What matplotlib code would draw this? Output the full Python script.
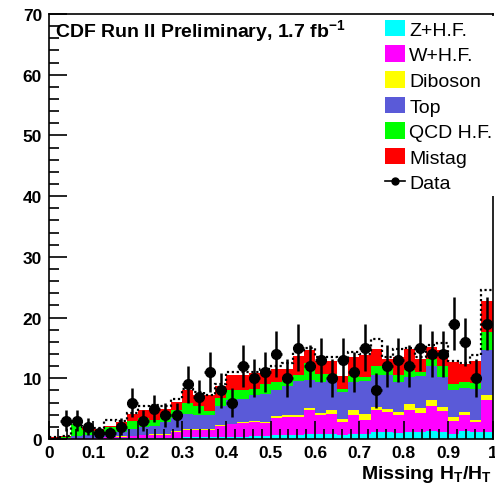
import numpy as np
import matplotlib
matplotlib.use("Agg")
import matplotlib.pyplot as plt
from matplotlib.patches import Patch
from matplotlib.lines import Line2D

plt.rcParams['font.family'] = ['Liberation Sans', 'DejaVu Sans']
plt.rcParams['mathtext.fontset'] = 'custom'
plt.rcParams['mathtext.rm'] = 'Liberation Sans'
plt.rcParams['mathtext.bf'] = 'Liberation Sans:bold'

# 40 bins of missing HT / HT
edges = np.linspace(0, 1, 41)

# cumulative stack tops per bin (Z+HF, +W+HF, +Diboson, +Top, +QCD HF, +Mistag)
z_top = [0.0, 0.0, 0.05, 0.05, 0.05, 0.05, 0.1, 0.1, 0.15, 0.15,
         0.2, 0.2, 0.25, 0.25, 0.3, 0.3, 0.35, 0.4, 0.45, 0.5,
         0.6, 0.6, 0.6, 0.9, 0.8, 0.9, 0.7, 0.8, 0.8, 1.1,
         1.1, 1.0, 1.1, 1.1, 1.4, 1.1, 0.8, 1.4, 1.1, 1.1]
w_top = [0.05, 0.1, 0.1, 0.15, 0.15, 0.25, 0.4, 0.5, 0.6, 0.65,
         0.7, 1.1, 1.5, 1.45, 1.5, 2.1, 2.4, 2.6, 2.8, 2.6,
         3.5, 3.6, 3.7, 4.7, 4.0, 4.2, 2.75, 4.0, 3.2, 4.8,
         4.4, 4.0, 4.8, 4.3, 5.5, 4.6, 2.9, 3.9, 2.75, 6.4]
db_top = [0.05, 0.1, 0.1, 0.15, 0.15, 0.3, 0.45, 0.55, 0.7, 0.75,
          0.8, 1.25, 1.65, 1.6, 1.6, 2.25, 2.55, 2.8, 3.0, 2.8,
          3.75, 3.9, 4.0, 5.1, 4.3, 4.7, 3.3, 4.8, 4.1, 5.2,
          5.0, 4.4, 5.7, 5.1, 6.4, 5.3, 3.6, 4.4, 3.2, 7.3]
top_top = [0.1, 0.2, 0.5, 0.6, 0.6, 1.0, 1.2, 1.65, 1.9, 2.2,
           2.75, 3.4, 4.2, 4.0, 4.0, 5.4, 6.5, 6.6, 7.2, 7.4,
           8.0, 8.8, 9.6, 9.75, 9.4, 9.9, 7.8, 9.4, 9.5, 10.6,
           10.5, 9.4, 10.2, 10.3, 12.1, 10.2, 8.15, 8.4, 8.3, 14.6]
qcd_top = [0.15, 0.3, 2.4, 1.5, 1.3, 1.9, 2.1, 3.0, 3.4, 3.1,
           3.9, 4.7, 5.9, 5.5, 4.6, 6.8, 8.0, 8.0, 8.3, 9.1,
           9.4, 9.75, 10.6, 12.5, 10.7, 10.7, 8.3, 10.3, 10.2, 12.1,
           12.0, 10.6, 11.4, 11.1, 13.1, 12.1, 9.1, 9.4, 9.3, 17.6]
mistag_top = [0.3, 0.5, 2.5, 1.9, 1.7, 2.2, 2.8, 4.1, 4.8, 5.0,
              4.9, 6.1, 8.1, 7.2, 7.2, 8.65, 10.6, 10.6, 10.9, 11.1,
              11.5, 11.6, 13.7, 14.7, 12.9, 12.9, 10.3, 13.5, 13.8, 14.9,
              13.2, 13.5, 14.9, 13.2, 15.2, 14.7, 12.7, 12.4, 12.8, 22.7]
# dotted total
dotted = [0.3, 0.5, 2.6, 1.9, 1.8, 3.1, 3.0, 4.3, 5.5, 5.6,
          5.5, 6.6, 8.3, 7.7, 7.2, 9.0, 11.0, 11.0, 11.1, 11.5,
          12.0, 12.6, 14.3, 15.0, 13.5, 13.5, 13.2, 14.3, 14.0, 16.5,
          13.5, 14.9, 15.0, 13.5, 15.5, 15.8, 12.9, 12.5, 13.8, 24.5]

data = [0, 3, 3, 2, 1, 1, 2, 6, 3, 5,
        4, 4, 9, 7, 11, 8, 6, 12, 10, 11,
        14, 10, 15, 12, 13, 10, 13, 11, 15, 8,
        12, 13, 12, 15, 14, 14, 19, 16, 10, 19]

labels = ["Z+H.F.", "W+H.F.", "Diboson", "Top", "QCD H.F.", "Mistag"]
colors = ["#00ffff", "#ff00ff", "#ffff00", "#5a5ad8", "#00ff00", "#ff0000"]

fig = plt.figure(figsize=(4.95, 4.85), dpi=100)
ax = fig.add_axes([49 / 495, 45 / 485, 443.5 / 495, 425 / 485])

layers = [z_top, w_top, db_top, top_top, qcd_top, mistag_top]
base = np.zeros(40)
for tops, col in zip(layers, colors):
    tops = np.maximum(np.array(tops), base)
    ax.stairs(tops, edges, baseline=base, fill=True, color=col, lw=0)
    base = tops

ax.stairs(dotted, edges, color="black", lw=1.6, ls=(0, (1, 1.2)), baseline=None)

centers = 0.5 * (edges[:-1] + edges[1:])
d = np.array(data, dtype=float)
m = d > 0
ax.errorbar(centers[m], d[m], xerr=0.0125, yerr=np.sqrt(d[m]), fmt="o",
            color="black", ms=7, elinewidth=1.8, capsize=0, zorder=6)

ax.set_xlim(0, 1)
ax.set_ylim(0, 70)
ax.set_xticks(np.arange(0, 1.01, 0.1))
ax.set_xticklabels(["0", "0.1", "0.2", "0.3", "0.4", "0.5", "0.6", "0.7", "0.8", "0.9", "1"])
ax.set_xticks(np.arange(0, 1.001, 0.02), minor=True)
ax.set_yticks(np.arange(0, 71, 10))
ax.set_yticks(np.arange(0, 71, 2), minor=True)
ax.tick_params(which="both", direction="in", width=1.2, labelsize=12.5)
ax.tick_params(which="major", length=13)
ax.tick_params(which="minor", length=7)
ax.tick_params(axis="x", pad=4)
ax.tick_params(axis="y", pad=5)
for lab in ax.get_xticklabels() + ax.get_yticklabels():
    lab.set_fontweight("bold")
for s in ax.spines.values():
    s.set_linewidth(1.2)

fig.text(55 / 495, 1 - 38 / 485, r"CDF Run II Preliminary, 1.7 fb$^{\mathbf{-1}}$",
         fontsize=14, fontweight="bold", va="baseline", ha="left")
fig.text(492 / 495, 1 - 479 / 485, r"Missing H$_{\mathbf{T}}$/H$_{\mathbf{T}}$",
         fontsize=14, fontweight="bold", va="baseline", ha="right")

handles = [Patch(facecolor=c, edgecolor="none") for c in colors]
handles.append(Line2D([], [], color="black", marker="o", ms=5, lw=1.2))
leg = fig.legend(handles, labels + ["Data"], loc="upper left",
                 bbox_to_anchor=(381 / 495, 1 - 17 / 485), fontsize=14,
                 frameon=True, fancybox=False, edgecolor="none", facecolor="white",
                 framealpha=1, borderpad=0.2, labelspacing=0.34, handlelength=1.03,
                 handleheight=0.93, handletextpad=0.22, borderaxespad=0)
leg.set_zorder(10)

fig.savefig("out.png", dpi=100)
